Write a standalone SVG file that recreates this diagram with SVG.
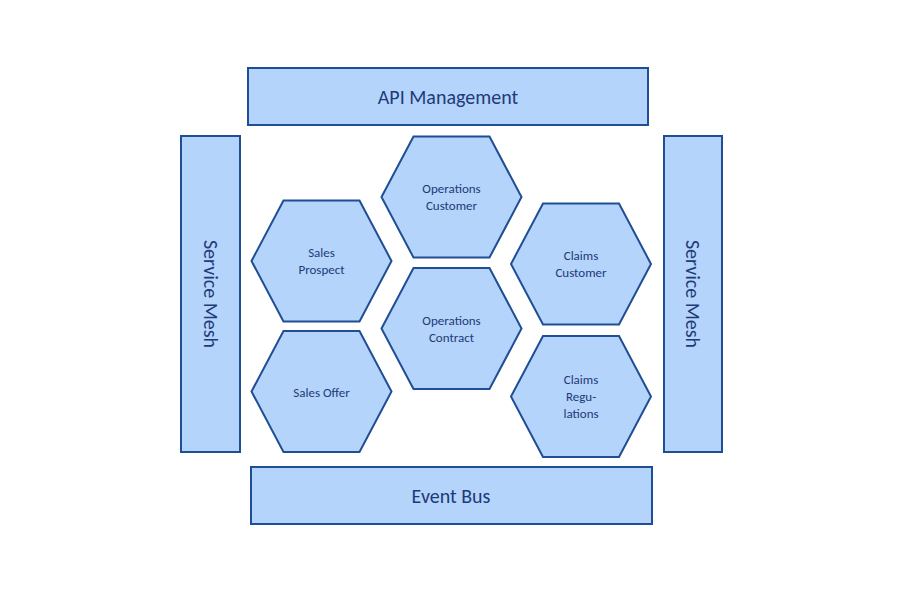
<svg xmlns="http://www.w3.org/2000/svg" width="900" height="600" viewBox="0 0 900 600">
<style>
.b{fill:#b4d4fb;stroke:#1f4e94;stroke-width:2}
.t{font-family:Calibri,"Carlito","Liberation Sans",sans-serif;fill:#1f3a78;text-anchor:middle}
.s{font-size:13px}.l{font-size:20px}
</style>
<defs><polygon id="hx" points="-70,0 -38,-60.5 38,-60.5 70,0 38,60.5 -38,60.5"/></defs>
<rect width="900" height="600" fill="#fff"/>
<g id="api"><rect class="b" x="248" y="68" width="400" height="57"/><text class="t l" x="448" y="104">API Management</text></g>
<g id="eventbus"><rect class="b" x="251" y="467" width="401" height="57"/><text class="t l" x="451" y="503">Event Bus</text></g>
<g id="meshL"><rect class="b" x="181" y="136" width="59" height="316"/><text class="t l" transform="translate(204,294) rotate(90)">Service Mesh</text></g>
<g id="meshR"><rect class="b" x="664" y="136" width="58" height="316"/><text class="t l" transform="translate(686,294) rotate(90)">Service Mesh</text></g>
<g id="opCust" transform="translate(451.5,197)"><use href="#hx" class="b"/><text class="t s" y="-4">Operations</text><text class="t s" y="13">Customer</text></g>
<g id="salesProspect" transform="translate(321.5,261)"><use href="#hx" class="b"/><text class="t s" y="-4">Sales</text><text class="t s" y="13">Prospect</text></g>
<g id="claimsCust" transform="translate(581,264)"><use href="#hx" class="b"/><text class="t s" y="-4">Claims</text><text class="t s" y="13">Customer</text></g>
<g id="opContract" transform="translate(451.5,328.5)"><use href="#hx" class="b"/><text class="t s" y="-4">Operations</text><text class="t s" y="13">Contract</text></g>
<g id="salesOffer" transform="translate(321.5,391.5)"><use href="#hx" class="b"/><text class="t s" y="5">Sales Offer</text></g>
<g id="claimsReg" transform="translate(581,396.5)"><use href="#hx" class="b"/><text class="t s" y="-13">Claims</text><text class="t s" y="4">Regu-</text><text class="t s" y="21">lations</text></g>
<g id="connectors"/>
</svg>
